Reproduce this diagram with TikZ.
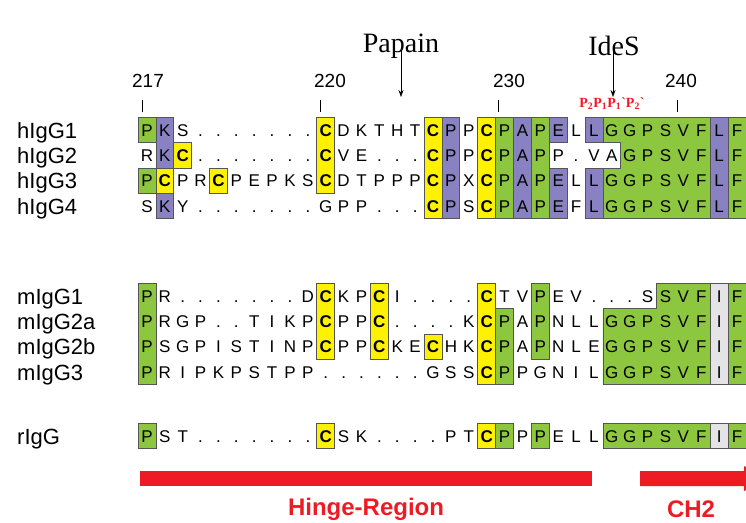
\documentclass[tikz,border=0pt]{standalone}
\usepackage{fontspec}
\setmainfont{Liberation Sans}
\newfontfamily\serifx{Liberation Serif}
\usetikzlibrary{arrows.meta}
\definecolor{gr}{RGB}{141,198,63}
\definecolor{pu}{RGB}{137,130,194}
\definecolor{ye}{RGB}{255,242,0}
\definecolor{lg}{RGB}{228,228,230}
\definecolor{ol}{RGB}{85,85,85}
\definecolor{rd}{RGB}{237,28,36}
\newcommand\cysC{\textbf{C}}
\newcommand\seqrow[3]{% #1 prefix, #2 row, #3 letters
  \foreach \ch [count=\i from 0] in {#3} {\node[seq] (#1-#2-\i) at (\i+0.5,#2+0.5) {\ch};}}
\newcommand\fc[3]{\fill[#3] (#1,#2) rectangle ++(1,1);}
\newcommand\fcol[4]{\fill[#4] (#1,#2) rectangle (#1+1,#3+1);}
\newcommand\ob[4]{\draw[outl] (#1,#2) rectangle (#3+1,#4+1);}
\begin{document}
\begin{tikzpicture}[x=1pt,y=-1pt,
  seq/.style={font=\fontsize{17}{17}\selectfont, anchor=base, yshift=-6.3pt, inner sep=0pt},
  lab/.style={font=\fontsize{22}{22}\selectfont, anchor=base west, inner sep=0pt},
  num/.style={font=\fontsize{19}{19}\selectfont, inner sep=0pt},
  enz/.style={font=\serifx\fontsize{28}{28}\selectfont, inner sep=0pt},
  outl/.style={draw=ol, line width=0.7pt},
  cut/.style={-{Stealth[length=7pt,width=5pt]}, line width=0.6pt},
  redtxt/.style={font=\bfseries\fontsize{24}{24}\selectfont, text=rd, inner sep=0pt},
  grid/.style={shift={(138pt,-#1)}, x=17.88pt, y=-25.3pt}
]
\useasboundingbox (0,0) rectangle (746,522);
\clip (0,0) rectangle (746,522);

% enzymes
\node[enz] (papain) at (401,46) {Papain};
\node[enz] (ides) at (614,46) {IdeS};
\coordinate (papcut) at (401,97);
\coordinate (idecut) at (613,97);
\draw[cut] (papain.south) ++(0,-8) -- (papcut);
\draw[cut] (ides.south) ++(-1,-8) -- (idecut);

% numbering
\node[num] (n217) at (148,81) {217};
\node[num] (n220) at (330,81) {220};
\node[num] (n230) at (509,81) {230};
\node[num] (n240) at (681,81) {240};
\foreach \t in {142,320,498,677} {\draw[line width=0.6pt] (\t,100) -- (\t,112);}
\node[font=\serifx\bfseries\fontsize{14}{14}\selectfont, text=rd, inner sep=0pt] (pp) at (612,104)
  {P\textsubscript{2}P\textsubscript{1}P\textsubscript{1}\textasciigrave P\textsubscript{2}\textasciigrave};

% labels
\node[lab] (lh1) at (17,138) {hIgG1};
\node[lab] (lh2) at (17,163.3) {hIgG2};
\node[lab] (lh3) at (17,188.6) {hIgG3};
\node[lab] (lh4) at (17,214) {hIgG4};
\node[lab] (lm1) at (17,304) {mIgG1};
\node[lab] (lm2) at (17,329.3) {mIgG2a};
\node[lab] (lm3) at (17,354.6) {mIgG2b};
\node[lab] (lm4) at (17,380) {mIgG3};
\node[lab] (lr1) at (17,444) {rIgG};

% ---------------- human -----------------
\begin{scope}[grid=117.35pt]
\fc{0}{0}{gr} \fc{0}{2}{gr}
\fcol{1}{0}{3}{pu} \fc{1}{2}{ye}
\fc{2}{1}{ye} \fc{4}{2}{ye}
\fcol{10}{0}{2}{ye}
\fcol{16}{0}{3}{ye} \fcol{17}{0}{3}{pu}
\fcol{19}{0}{3}{ye} \fcol{20}{0}{3}{gr} \fcol{21}{0}{3}{pu} \fcol{22}{0}{3}{gr}
\fc{23}{0}{pu} \fcol{23}{2}{3}{pu}
\fc{25}{0}{pu} \fcol{25}{2}{3}{pu}
\fc{26}{0}{gr} \fcol{26}{2}{3}{gr}
\fill[gr] (27,0) rectangle (32,4);
\fcol{32}{0}{3}{pu} \fcol{33}{0}{3}{gr}
\ob{0}{0}{0}{0} \ob{0}{2}{0}{2}
\ob{1}{0}{1}{3} \ob{1}{2}{1}{2}
\ob{2}{1}{2}{1} \ob{4}{2}{4}{2}
\ob{10}{0}{10}{2}
\ob{16}{0}{16}{3} \ob{17}{0}{17}{3}
\ob{19}{0}{19}{3} \ob{20}{0}{20}{3} \ob{21}{0}{21}{3} \ob{22}{0}{22}{3}
\ob{23}{0}{23}{0} \ob{23}{2}{23}{3}
\draw[outl] (25,0) -- (34,0) -- (34,4) -- (25,4) -- (25,2) -- (27,2) -- (27,1) -- (25,1) -- cycle;
\draw[outl] (26,0) -- (26,1) (26,2) -- (26,4) (32,0) -- (32,4) (33,0) -- (33,4);
\seqrow{h}{0}{P,K,S,.,.,.,.,.,.,.,\cysC,D,K,T,H,T,\cysC,P,P,\cysC,P,A,P,E,L,L,G,G,P,S,V,F,L,F}
\seqrow{h}{1}{R,K,\cysC,.,.,.,.,.,.,.,\cysC,V,E,.,.,.,\cysC,P,P,\cysC,P,A,P,P,.,V,A,G,P,S,V,F,L,F}
\seqrow{h}{2}{P,\cysC,P,R,\cysC,P,E,P,K,S,\cysC,D,T,P,P,P,\cysC,P,X,\cysC,P,A,P,E,L,L,G,G,P,S,V,F,L,F}
\seqrow{h}{3}{S,K,Y,.,.,.,.,.,.,.,G,P,P,.,.,.,\cysC,P,S,\cysC,P,A,P,E,F,L,G,G,P,S,V,F,L,F}
\end{scope}

% ---------------- mouse -----------------
\begin{scope}[grid=283.35pt]
\fcol{0}{0}{3}{gr}
\fcol{10}{0}{2}{ye} \fcol{13}{0}{2}{ye} \fc{16}{2}{ye}
\fcol{19}{0}{3}{ye} \fcol{20}{1}{3}{gr} \fcol{22}{0}{2}{gr}
\fill[gr] (26,1) -- (29,1) -- (29,0) -- (32,0) -- (32,4) -- (26,4) -- cycle;
\fcol{32}{0}{3}{lg} \fcol{33}{0}{3}{gr}
\ob{0}{0}{0}{3}
\ob{10}{0}{10}{2} \ob{13}{0}{13}{2} \ob{16}{2}{16}{2}
\ob{19}{0}{19}{3} \ob{20}{1}{20}{3} \ob{22}{0}{22}{2}
\draw[outl] (26,1) -- (29,1) -- (29,0) -- (32,0) -- (32,4) -- (26,4) -- cycle;
\ob{32}{0}{32}{3} \ob{33}{0}{33}{3}
\seqrow{m}{0}{P,R,.,.,.,.,.,.,.,D,\cysC,K,P,\cysC,I,.,.,.,.,\cysC,T,V,P,E,V,.,.,.,S,S,V,F,I,F}
\seqrow{m}{1}{P,R,G,P,.,.,T,I,K,P,\cysC,P,P,\cysC,.,.,.,.,K,\cysC,P,A,P,N,L,L,G,G,P,S,V,F,I,F}
\seqrow{m}{2}{P,S,G,P,I,S,T,I,N,P,\cysC,P,P,\cysC,K,E,\cysC,H,K,\cysC,P,A,P,N,L,E,G,G,P,S,V,F,I,F}
\seqrow{m}{3}{P,R,I,P,K,P,S,T,P,P,.,.,.,.,.,.,G,S,S,\cysC,P,P,G,N,I,L,G,G,P,S,V,F,I,F}
\end{scope}

% ---------------- rat -----------------
\begin{scope}[grid=423.35pt]
\fc{0}{0}{gr} \fc{10}{0}{ye} \fc{19}{0}{ye} \fc{20}{0}{gr} \fc{22}{0}{gr}
\fill[gr] (26,0) rectangle (32,1);
\fc{32}{0}{lg} \fc{33}{0}{gr}
\ob{0}{0}{0}{0} \ob{10}{0}{10}{0} \ob{19}{0}{19}{0} \ob{20}{0}{20}{0} \ob{22}{0}{22}{0}
\ob{26}{0}{31}{0} \ob{32}{0}{32}{0} \ob{33}{0}{33}{0}
\seqrow{r}{0}{P,S,T,.,.,.,.,.,.,.,\cysC,S,K,.,.,.,.,P,T,\cysC,P,P,P,E,L,L,G,G,P,S,V,F,I,F}
\end{scope}

% ---------------- domains -----------------
\fill[rd] (140,471) rectangle (592,486);
\fill[rd] (640,471) rectangle (744,486) -- (744,466) -- (768,478.5) -- (744,491) -- cycle;
\node[redtxt] (hinge) at (366,509) {Hinge-Region};
\node[redtxt] (ch2) at (691,509) {CH2};
\end{tikzpicture}
\end{document}
